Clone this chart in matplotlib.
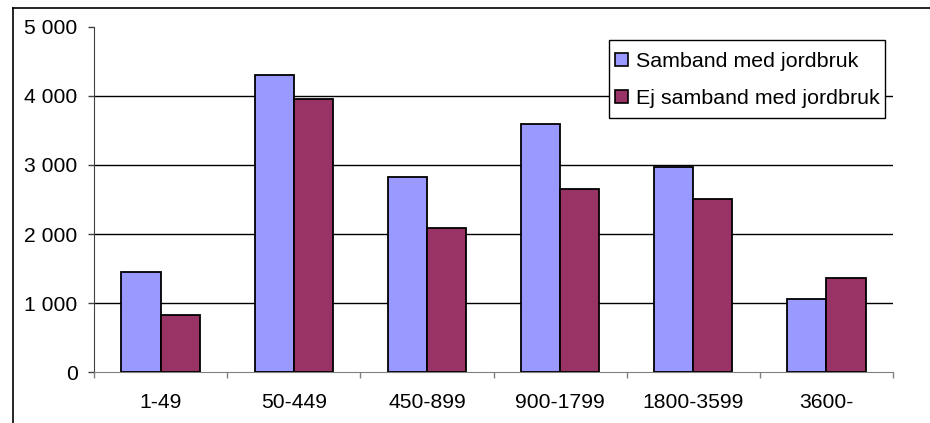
import matplotlib.pyplot as plt
import numpy as np
from matplotlib.lines import Line2D
from matplotlib.patches import Rectangle

plt.rcParams['font.family'] = ['Liberation Sans', 'DejaVu Sans']

# data
categories = ['1-49', '50-449', '450-899', '900-1799', '1800-3599', '3600-']
samband = [1450, 4305, 2830, 3590, 2970, 1060]
ej_samband = [835, 3960, 2085, 2655, 2510, 1360]
y_ticks = [0, 1000, 2000, 3000, 4000, 5000]
y_labels = ['0', '1 000', '2 000', '3 000', '4 000', '5 000']

W, H = 930, 423
fig = plt.figure(figsize=(W/100, H/100), dpi=100)
ax = fig.add_axes([94/W, 50.7/H, (893-94)/W, 345.5/H])

x = np.arange(len(categories))
w = 0.294
ax.bar(x - w/2, samband, w, color='#9999FF', edgecolor='black', linewidth=1.3,
       label='Samband med jordbruk', zorder=3)
ax.bar(x + w/2, ej_samband, w, color='#993366', edgecolor='black', linewidth=1.3,
       label='Ej samband med jordbruk', zorder=3)

ax.set_xlim(-0.5, len(categories) - 0.5)
ax.set_ylim(0, 5000)

# gridlines at 1000..4000 only
for t in y_ticks[1:-1]:
    ax.axhline(t, color='black', linewidth=1.0, zorder=1)

ax.set_yticks(y_ticks)
ax.set_yticklabels(y_labels, fontsize=15.2)
ax.tick_params(axis='y', direction='out', length=4.3, width=1, color='#404040', pad=7.5)

ax.set_xticks(x)
ax.set_xticklabels(categories, fontsize=15.2)
ax.set_xticks(np.arange(len(categories) + 1) - 0.5, minor=True)
ax.tick_params(axis='x', which='major', length=0, pad=15)
ax.tick_params(axis='x', which='minor', direction='out', length=4.3, width=1, color='#808080')

for s in ['top', 'right']:
    ax.spines[s].set_visible(False)
ax.spines['left'].set_color('#404040')
ax.spines['bottom'].set_color('#808080')

# legend (Excel style box)
leg = ax.legend(loc='upper left', bbox_to_anchor=(615/W, 1 - 52/H),
                bbox_transform=fig.transFigure, borderaxespad=0, borderpad=0,
                fontsize=15.4, frameon=False,
                handlelength=0.6, handleheight=0.6, handletextpad=0.38,
                labelspacing=0.85)
for h in leg.legend_handles:
    h.set_linewidth(1.2)
leg.set_zorder(6)
ax.add_patch(Rectangle((609/W, 1 - 117.7/H), (885-609)/W, (117.7-40.5)/H,
                       transform=fig.transFigure, facecolor='white', edgecolor='black',
                       linewidth=1.0, zorder=5, clip_on=False))

# outer chart frame
fig.add_artist(Line2D([12.5/W, 12.5/W], [0, 1 - 8/H], color='black', linewidth=1.2))
fig.add_artist(Line2D([12.5/W, 1], [1 - 8/H, 1 - 8/H], color='black', linewidth=1.2))

fig.savefig('out.png', dpi=100)
